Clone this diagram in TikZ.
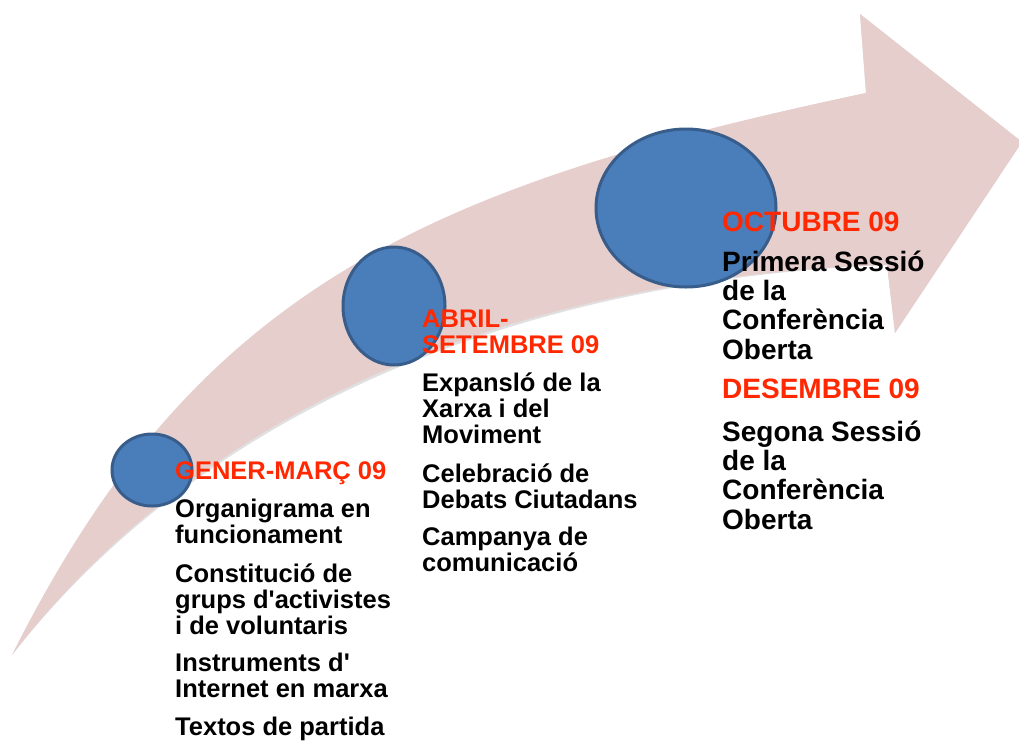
\documentclass[tikz,border=0pt]{standalone}
\usepackage{fontspec}
\newfontfamily\swooshfont{Liberation Sans}
\usetikzlibrary{shapes.geometric}

\definecolor{arrowpink}{RGB}{230,206,205}
\definecolor{dotblue}{RGB}{74,126,187}
\definecolor{dotedge}{RGB}{56,93,138}
\definecolor{headred}{RGB}{255,40,0}

\tikzset{
  milestone/.style={ellipse, draw=dotedge, fill=dotblue, line width=3pt, inner sep=0pt},
  period/.style={anchor=base west, align=left, inner sep=0pt, text=headred,
    font=\swooshfont\bfseries\fontsize{25.5}{26}\selectfont},
  task/.style={anchor=base west, align=left, inner sep=0pt, text=black,
    font=\swooshfont\bfseries\fontsize{25.5}{26}\selectfont},
  bigperiod/.style={period, font=\swooshfont\bfseries\fontsize{28}{29.3}\selectfont},
  bigtask/.style={task, font=\swooshfont\bfseries\fontsize{28}{29.3}\selectfont},
}

\begin{document}
\begin{tikzpicture}[x=1pt,y=-1pt]

      \useasboundingbox (0,0) rectangle (1019,740);

      % swoosh arrow
      \coordinate (tail)     at (12,655);
      \coordinate (notchbot) at (887,265);
      \coordinate (headbot)  at (895,333);
      \coordinate (tip)      at (1022,142);
      \coordinate (headtop)  at (860,14);
      \coordinate (notchtop) at (866,93);

      \fill[black, opacity=0.12, shift={(2,3)}]
        (tail) .. controls (212,395) and (537,276) .. (notchbot) -- (headbot) -- (tip)
        -- (headtop) -- (notchtop) .. controls (416,187.5) and (192,295) .. (tail) -- cycle;
      \fill[arrowpink]
        (tail) .. controls (212,395) and (537,276) .. (notchbot) -- (headbot) -- (tip)
        -- (headtop) -- (notchtop) .. controls (416,187.5) and (192,295) .. (tail) -- cycle;

      \begin{scope}[every node/.style={milestone}]
        \node[minimum width=80pt,  minimum height=72pt]  (m1) at (152,470) {};
        \node[minimum width=102pt, minimum height=118pt] (m2) at (394,306) {};
        \node[minimum width=180pt, minimum height=158pt] (m3) at (686,208) {};
      \end{scope}

      % gener-marc (base = last line)
      \node[period] (gener)  at (175,479) {GENER-MARÇ 09};
      \node[task]   (organ)  at (175,543) {Organigrama en\\funcionament};
      \node[task]   (const)  at (175,634) {Constitució de\\grups d'activistes\\i de voluntaris};
      \node[task]   (instr)  at (175,697) {Instruments d'\\Internet en marxa};
      \node[task]   (textos) at (175,735) {Textos de partida};

      % abril-setembre
      \node[period] (abril)  at (422,353) {ABRIL-\\SETEMBRE 09};
      \node[task]   (expans) at (422,443) {Expansló de la\\Xarxa i del\\Moviment};
      \node[task]   (celeb)  at (422,508) {Celebració de\\Debats Ciutadans};
      \node[task]   (campa)  at (422,571) {Campanya de\\comunicació};

      % octubre, desembre
      \node[bigperiod] (octubre)  at (722,231) {OCTUBRE 09};
      \node[bigtask]   (primera)  at (722,359) {Primera Sessió\\de la\\Conferència\\Oberta};
      \node[bigperiod] (desembre) at (722,398) {DESEMBRE 09};
      \node[bigtask]   (segona)   at (722,529) {Segona Sessió\\de la\\Conferència\\Oberta};

    \end{tikzpicture}
\end{document}
